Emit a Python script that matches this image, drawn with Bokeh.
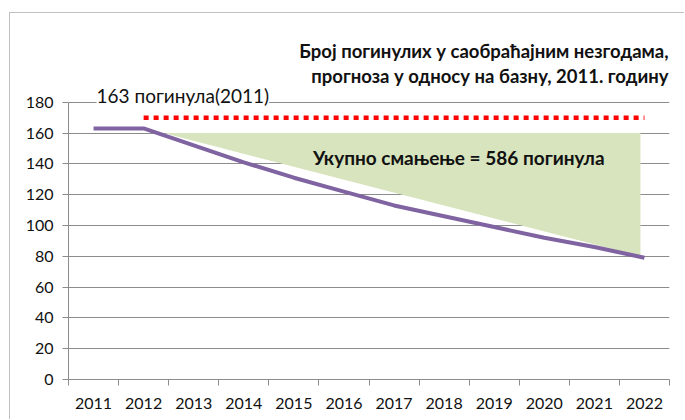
from bokeh.plotting import figure
from bokeh.models import FixedTicker, Label, Range1d
from bokeh.embed import file_html
from bokeh.resources import INLINE

# ---- data ----
years = ["2011", "2012", "2013", "2014", "2015", "2016",
         "2017", "2018", "2019", "2020", "2021", "2022"]
deaths = [163, 163, 152, 141, 131, 122, 113, 106, 99, 92, 86, 79]
target_years = years[1:]
target = [170] * len(target_years)
y_ticks = [0, 20, 40, 60, 80, 100, 120, 140, 160, 180]
# shaded reduction area (x in category units, 0 = left edge of first category)
area_x = [1.9, 11.42, 11.42]
area_y = [160, 160, 80]

title_1 = "Број погинулих у саобраћајним незгодама,"
title_2 = "прогноза у односу на базну, 2011. годину"
base_note = "163 погинула(2011)"
total_note = "Укупно смањење = 586 погинула"

# ---- positions ----
centers = [i + 0.5 for i in range(len(years))]
x_of = dict(zip(years, centers))
target_x = [x_of[y] for y in target_years]

GRID = "#8c8c8c"
FONT = "Lato"
TXT = "#111111"

p = figure(width=675, height=407, x_range=Range1d(0, len(years)),
           y_range=Range1d(0, 237.6), output_backend="svg",
           toolbar_location=None, min_border_left=58, min_border_right=16,
           min_border_top=0, min_border_bottom=41)
p.margin = (12, 0, 0, 9)
p.styles = {"border-top": "1px solid #c0c0c0", "border-left": "1px solid #c0c0c0"}
p.outline_line_color = None
p.background_fill_color = "white"
p.border_fill_color = "white"
p.xgrid.visible = False
p.ygrid.grid_line_color = GRID
p.ygrid.grid_line_width = 1

# x axis: labels at category centers, ticks at category boundaries
xa = p.xaxis[0]
xa.ticker = FixedTicker(ticks=centers, minor_ticks=list(range(len(years) + 1)))
xa.major_label_overrides = {c: y for c, y in zip(centers, years)}
xa.major_tick_out = 0
xa.major_tick_in = 0
xa.minor_tick_out = 6
xa.minor_tick_in = 0
xa.minor_tick_line_color = GRID
xa.axis_line_color = GRID
xa.major_label_standoff = 12
xa.major_label_text_font = FONT
xa.major_label_text_font_size = "16px"
xa.major_label_text_color = TXT

ya = p.yaxis[0]
ya.ticker = FixedTicker(ticks=y_ticks)
ya.bounds = (0, 180)
ya.major_tick_out = 6
ya.major_tick_in = 0
ya.major_tick_line_color = GRID
ya.minor_tick_line_color = None
ya.axis_line_color = GRID
ya.major_label_standoff = 9
ya.major_label_text_font = FONT
ya.major_label_text_font_size = "16px"
ya.major_label_text_color = TXT

p.patch(area_x, area_y, fill_color="#D7E4BD", line_color=None)
p.line(centers, deaths, line_color="#8064A2", line_width=4, line_join="round")
p.line(target_x, target, line_color="#FF0000", line_width=4.5, line_dash="5 5")

p.add_layout(Label(x=11.98, y=213.5, text=title_1, text_align="right",
                   text_baseline="middle", text_font=FONT, text_font_style="bold",
                   text_font_size="18.5px", text_color=TXT))
p.add_layout(Label(x=11.98, y=197, text=title_2, text_align="right",
                   text_baseline="middle", text_font=FONT, text_font_style="bold",
                   text_font_size="18.5px", text_color=TXT))
p.add_layout(Label(x=0.56, y=184.3, text=base_note, text_align="left",
                   text_baseline="middle", text_font=FONT, text_font_size="19px",
                   text_color=TXT, background_fill_color="white"))
p.add_layout(Label(x=4.88, y=144, text=total_note, text_align="left",
                   text_baseline="middle", text_font=FONT, text_font_style="bold",
                   text_font_size="19px", text_color=TXT))

open("out.html", "w").write(file_html(p, INLINE))
